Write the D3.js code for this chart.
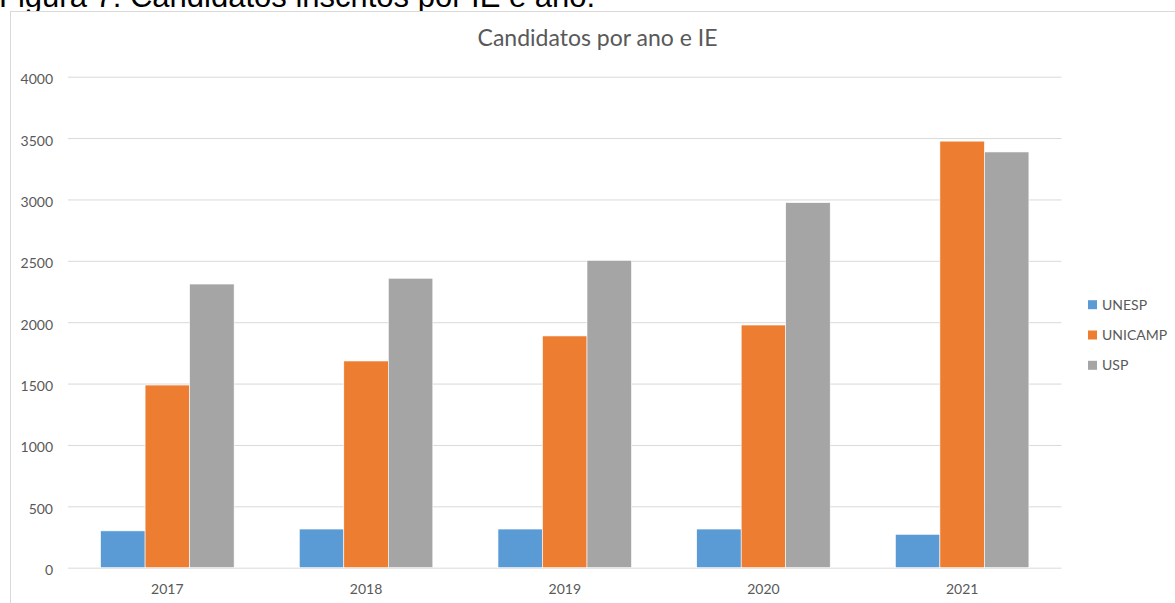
<!DOCTYPE html>
<html>
<head>
<meta charset="utf-8">
<script src="https://cdn.jsdelivr.net/npm/d3@7"></script>
<style>
  body { margin: 0; background: #fff; overflow: hidden; }
  svg { display: block; }
</style>
</head>
<body>
<script>
const years = ["2017", "2018", "2019", "2020", "2021"]
const series_names = ["UNESP", "UNICAMP", "USP"]
const unesp = [300, 315, 315, 315, 272]
const unicamp = [1488, 1684, 1888, 1977, 3475]
const usp = [2311, 2358, 2504, 2974, 3387]
const y_ticks = [0, 500, 1000, 1500, 2000, 2500, 3000, 3500, 4000]
const colors = ["#5B9BD5", "#ED7D31", "#A5A5A5"]

const width = 1175
const height = 603
const plot = { left: 68, right: 1061.5, top: 76.7, bottom: 567.7 }
const label_font = "Lato, 'Open Sans', sans-serif"

var svg = d3.select("body").append("svg")
    .attr("width", width)
    .attr("height", height)

// caption from the document, cut at the top
svg.append("text")
    .attr("x", -1)
    .attr("y", 7)
    .attr("font-family", "'Liberation Sans', Arial, sans-serif")
    .attr("font-size", 31)
    .attr("fill", "#000")
    .text("Figura 7: Candidatos inscritos por IE e ano.")

// chart area border
svg.append("rect")
    .attr("x", 10.5)
    .attr("y", 11.5)
    .attr("width", width)
    .attr("height", height)
    .attr("fill", "#fff")
    .attr("stroke", "#d9d9d9")

svg.append("text")
    .attr("x", 597.5)
    .attr("y", 46)
    .attr("text-anchor", "middle")
    .attr("font-family", label_font)
    .attr("font-size", 23)
    .attr("fill", "#595959")
    .text("Candidatos por ano e IE")

var x0 = d3.scaleBand()
    .domain(years)
    .range([plot.left, plot.right])
    .paddingInner(0.328)
    .paddingOuter(0.164)

var x1 = d3.scaleBand()
    .domain(series_names)
    .range([0, x0.bandwidth()])

var y = d3.scaleLinear()
    .domain([0, 4000])
    .range([plot.bottom, plot.top])

// gridlines and y labels
var y_axis = svg.append("g")
    .attr("transform", "translate(" + plot.left + ",0)")
    .call(d3.axisLeft(y)
        .tickValues(y_ticks)
        .tickFormat(d3.format("d"))
        .tickSize(-(plot.right - plot.left))
        .tickPadding(15))

y_axis.select(".domain").remove()
y_axis.selectAll(".tick line")
    .attr("stroke", "#d9d9d9")
    .attr("stroke-width", 1)
y_axis.selectAll(".tick text")
    .attr("font-family", label_font)
    .attr("font-size", 14)
    .attr("fill", "#595959")
    .attr("dy", "0.5em")

var table = years.map((year, i) => ({
    year: year,
    values: [unesp[i], unicamp[i], usp[i]]
}))

var groups = svg.append("g")
    .selectAll("g")
    .data(table)
    .enter()
    .append("g")
    .attr("transform", d => "translate(" + x0(d.year) + ",0)")

groups.selectAll("rect")
    .data(d => d.values.map((v, i) => ({ name: series_names[i], value: v, color: colors[i] })))
    .enter()
    .append("rect")
    .attr("x", d => x1(d.name))
    .attr("y", d => y(d.value))
    .attr("width", x1.bandwidth())
    .attr("height", d => y(0) - y(d.value))
    .attr("fill", d => d.color)
    .attr("stroke", "#fff")
    .attr("stroke-width", 0.6)

// x axis labels
var x_axis = svg.append("g")
    .attr("transform", "translate(0," + plot.bottom + ")")
    .call(d3.axisBottom(x0).tickSize(0).tickPadding(16))

x_axis.select(".domain").remove()
x_axis.selectAll(".tick text")
    .attr("font-family", label_font)
    .attr("font-size", 14)
    .attr("fill", "#595959")

// legend
var legend = svg.append("g")
    .selectAll("g")
    .data(series_names)
    .enter()
    .append("g")
    .attr("transform", (d, i) => "translate(1088," + (304.7 + i * 30.3) + ")")

legend.append("rect")
    .attr("x", 0)
    .attr("y", -4.5)
    .attr("width", 9)
    .attr("height", 9)
    .attr("fill", (d, i) => colors[i])

legend.append("text")
    .attr("x", 14)
    .attr("dy", "0.36em")
    .attr("font-family", label_font)
    .attr("font-size", 14)
    .attr("fill", "#595959")
    .text(d => d)
</script>
</body>
</html>
